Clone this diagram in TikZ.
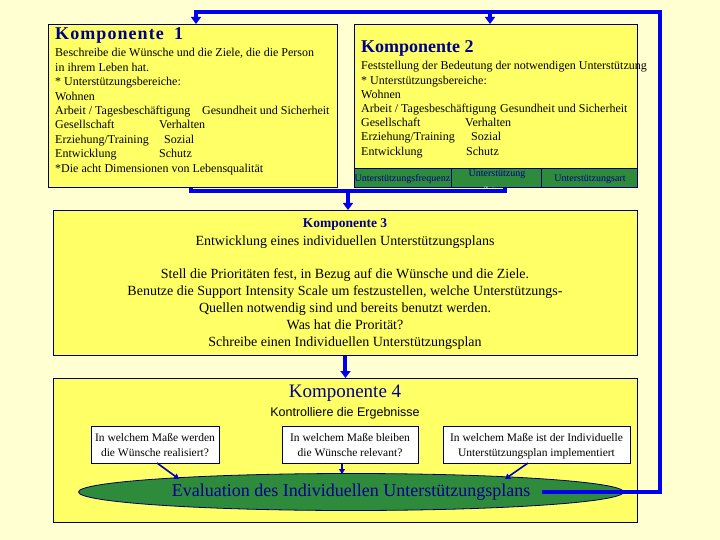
\documentclass[tikz,border=0pt]{standalone}
\usepackage{fontspec}
\setmainfont{Liberation Serif}
\setsansfont{Liberation Sans}
\usetikzlibrary{arrows.meta,shapes.geometric}
\definecolor{bg}{HTML}{FFFFD2}
\definecolor{boxy}{HTML}{FFFF66}
\definecolor{navy}{HTML}{000060}
\definecolor{tblue}{HTML}{00008C}
\definecolor{lblue}{HTML}{0000F0}
\definecolor{grn}{HTML}{2E8B3C}
\begin{document}
\begin{tikzpicture}[x=1pt,y=-1pt,
  panel/.style={draw=navy, fill=boxy, line width=0.9pt, anchor=north west, inner sep=0pt},
  cell/.style={draw=navy, fill=grn, line width=0.8pt, anchor=north west, inner sep=0pt, minimum height=19pt},
  wbox/.style={draw=navy, fill=white, line width=0.8pt, anchor=north west, inner sep=0pt},
  tx/.style={anchor=base west, inner sep=0pt, font=\fontsize{12}{14}\selectfont},
  ctx/.style={anchor=base, inner sep=0pt, font=\fontsize{14}{16}\selectfont},
  wtx/.style={anchor=base, inner sep=0pt, font=\fontsize{11.5}{13}\selectfont},
  gtx/.style={anchor=base, inner sep=0pt, text=tblue, font=\fontsize{10}{11}\selectfont},
  ttl/.style={anchor=base west, inner sep=0pt, text=tblue, font=\fontsize{18}{20}\selectfont\bfseries},
  bl/.style={draw=lblue, line width=4pt},
  blarrow/.style={bl, -{Triangle[length=7pt,width=10pt]}},
  sarrow/.style={draw=lblue!80!black, line width=1.6pt, -{Triangle[length=5pt,width=6pt]}}
]
\fill[bg] (0,0) rectangle (720,540);
\useasboundingbox (0,0) rectangle (720,540);

% panels
\node[panel, minimum width=289pt, minimum height=163pt] (k1) at (48,24) {};
\node[panel, minimum width=283pt, minimum height=163pt] (k2) at (354,24) {};
\node[cell, minimum width=97pt] (g1) at (354,168) {};
\node[cell, minimum width=90pt] (g2) at (451,168) {};
\node[cell, minimum width=96pt] (g3) at (541,168) {};
\node[panel, minimum width=584pt, minimum height=145pt] (k3) at (53,210) {};
\node[panel, minimum width=584pt, minimum height=144pt] (k4) at (53,378) {};

% Komponente 1 text
\node[ttl] (t1) at (55,40) {\addfontfeature{LetterSpace=6}Komponente};
\node[ttl] (t1n) at (174,40) {1};
\node[tx] (a1) at (55,57) {Beschreibe die Wünsche und die Ziele, die die Person};
\node[tx] (a2) at (55,71.4) {in ihrem Leben hat.};
\node[tx] (a3) at (55,85.8) {* Unterstützungsbereiche:};
\node[tx] (a4) at (55,100.2) {Wohnen};
\node[tx] (a5) at (55,114.6) {Arbeit / Tagesbeschäftigung};
\node[tx] (a5b) at (202,114.6) {Gesundheit und Sicherheit};
\node[tx] (a6) at (55,129) {Gesellschaft};
\node[tx] (a6b) at (159,129) {Verhalten};
\node[tx] (a7) at (55,143.4) {Erziehung/Training};
\node[tx] (a7b) at (164,143.4) {Sozial};
\node[tx] (a8) at (55,157.8) {Entwicklung};
\node[tx] (a8b) at (159,157.8) {Schutz};
\node[tx] (a9) at (55,172.2) {*Die acht Dimensionen von Lebensqualität};

% Komponente 2 text
\node[ttl] (t2) at (361,53) {Komponente 2};
\node[tx] (b1) at (361,70) {Feststellung der Bedeutung der notwendigen Unterstützung};
\node[tx] (b2) at (361,84.2) {* Unterstützungsbereiche:};
\node[tx] (b3) at (361,98.4) {Wohnen};
\node[tx] (b4) at (361,112.6) {Arbeit / Tagesbeschäftigung};
\node[tx] (b4b) at (500,112.6) {Gesundheit und Sicherheit};
\node[tx] (b5) at (361,126.8) {Gesellschaft};
\node[tx] (b5b) at (465,126.8) {Verhalten};
\node[tx] (b6) at (361,141) {Erziehung/Training};
\node[tx] (b6b) at (471,141) {Sozial};
\node[tx] (b7) at (361,155.2) {Entwicklung};
\node[tx] (b7b) at (466,155.2) {Schutz};
\node[gtx] (c1) at (402.5,182) {Unterstützungsfrequenz};
\node[gtx] (c2) at (497,177) {Unterstützung};
\node[gtx] (c3) at (590,182) {Unterstützungsart};

% Komponente 3 text
\node[ctx, text=tblue, font=\fontsize{13.5}{16}\selectfont\bfseries] (t3) at (345,227) {Komponente 3};
\node[ctx] (d1) at (345,245) {Entwicklung eines individuellen Unterstützungsplans};
\node[ctx] (d2) at (345,278) {Stell die Prioritäten fest, in Bezug auf die Wünsche und die Ziele.};
\node[ctx] (d3) at (345,295) {Benutze die Support Intensity Scale um festzustellen, welche Unterstützungs-};
\node[ctx] (d4) at (345,312) {Quellen notwendig sind und bereits benutzt werden.};
\node[ctx] (d5) at (345,329) {Was hat die Prorität?};
\node[ctx] (d6) at (345,346) {Schreibe einen Individuellen Unterstützungsplan};

% Komponente 4
\node[anchor=base, inner sep=0pt, text=tblue, font=\fontsize{19}{21}\selectfont] (t4) at (345,397) {Komponente 4};
\node[anchor=base, inner sep=0pt, font=\sffamily\fontsize{12.5}{14}\selectfont] (t4s) at (345,416) {Kontrolliere die Ergebnisse};
\node[wbox, minimum width=128pt, minimum height=37pt] (w1) at (91,426) {};
\node[wbox, minimum width=136pt, minimum height=37pt] (w2) at (282,426) {};
\node[wbox, minimum width=187pt, minimum height=37pt] (w3) at (443,426) {};
\node[wtx] (e1) at (155,441) {In welchem Maße werden};
\node[wtx] (e2) at (155,456) {die Wünsche realisiert?};
\node[wtx] (f1) at (350,441) {In welchem Maße bleiben};
\node[wtx] (f2) at (350,456) {die Wünsche relevant?};
\node[wtx] (h1) at (536.5,441) {In welchem Maße ist der Individuelle};
\node[wtx] (h2) at (536.5,456) {Unterstützungsplan implementiert};
\node[ellipse, draw=navy, fill=grn, line width=0.8pt, minimum width=545pt, minimum height=37pt, inner sep=0pt,
      text=tblue, font=\fontsize{18}{20}\selectfont] (ev) at (351,492) {Evaluation des Individuellen Unterstützungsplans};

% small arrows
\coordinate (s1) at (157,463);
\coordinate (s3) at (528,463);
\draw[sarrow] (s1) -- (179,479);
\draw[sarrow] (w2.south -| 342,0) -- (342,474);
\draw[sarrow] (s3) -- (505,479);

% feedback loop
\coordinate (es) at (542,492);
\coordinate (br) at (660,492);
\coordinate (tr) at (660,12);
\coordinate (tl) at (196,12);
\coordinate (tm) at (490,12);
\draw[bl, line join=miter] (es) -- (br) -- (tr) -- (tl) -- ++(0,2);
\draw[blarrow] (tl) -- (tl |- k1.north);
\draw[blarrow] (tm) -- (tm |- k2.north);

% join of components 1 and 2
\node[inner sep=0pt, text=white, font=\fontsize{8}{9}\selectfont, anchor=base] (zeit) at (490,193) {Zeit};
\coordinate (j1) at (191,191);
\coordinate (j2) at (505,191);
\coordinate (jm) at (348,191);
\draw[bl, line join=miter] (j1 |- k1.south) -- (j1) -- (j2) -- (j2 |- k2.south);
\draw[blarrow] (jm) -- (jm |- k3.north);
\draw[blarrow] (k3.south) -- (k4.north);
\end{tikzpicture}
\end{document}
